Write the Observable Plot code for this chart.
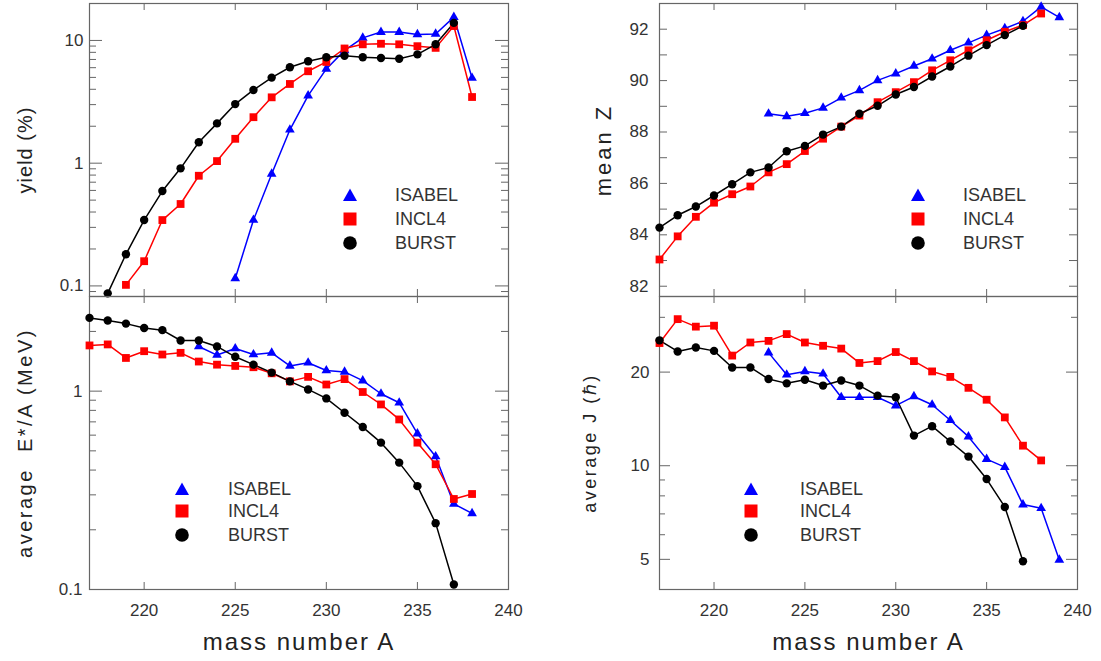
<!DOCTYPE html>
<html><head><meta charset="utf-8">
<script src="https://cdn.jsdelivr.net/npm/d3@7"></script>
<script src="https://cdn.jsdelivr.net/npm/@observablehq/plot@0.6"></script>
<style>
body{margin:0;background:#fff;}
#root{position:relative;width:1101px;height:661px;overflow:hidden;font-family:"Liberation Sans",Arial,sans-serif;}
.panel{position:absolute;}
.lg{position:absolute;font-family:"Liberation Sans",Arial,sans-serif;font-size:18px;color:#333;line-height:1;transform:translateY(-50%);white-space:nowrap;}
.lgm{position:absolute;transform:translate(-50%,-50%);}
</style></head><body><div id="root"></div>
<script>
// ---------- series names / styles ----------
const seriesNames = ["ISABEL", "INCL4", "BURST"];
const seriesColors = ["#0000ff", "#ff0000", "#000000"];
const seriesSymbols = ["triangle", "square", "circle"];

// ---------- mass numbers ----------
const A_218_237 = [218,219,220,221,222,223,224,225,226,227,228,229,230,231,232,233,234,235,236,237];
const A_219_238 = [219,220,221,222,223,224,225,226,227,228,229,230,231,232,233,234,235,236,237,238];
const A_225_238 = [225,226,227,228,229,230,231,232,233,234,235,236,237,238];
const A_217_237 = [217,218,219,220,221,222,223,224,225,226,227,228,229,230,231,232,233,234,235,236,237];
const A_217_238 = [217,218,219,220,221,222,223,224,225,226,227,228,229,230,231,232,233,234,235,236,237,238];
const A_223_239 = [223,224,225,226,227,228,229,230,231,232,233,234,235,236,237,238,239];
const A_223_238 = [223,224,225,226,227,228,229,230,231,232,233,234,235,236,237,238];

// ---------- yield (%) ----------
const yieldBURST  = [0.087,0.181,0.344,0.593,0.908,1.48,2.11,3.03,3.95,4.98,6.05,6.77,7.3,7.5,7.3,7.2,7.1,7.7,9.3,13.9];
const yieldINCL4  = [0.102,0.159,0.344,0.465,0.79,1.04,1.58,2.37,3.44,4.42,5.61,6.68,8.6,9.3,9.4,9.3,8.98,8.7,13.1,3.46];
const yieldISABEL = [0.115,0.344,0.817,1.87,3.55,5.86,8.3,10.5,11.7,11.7,11.2,11.3,15.5,4.94];

// ---------- mean Z ----------
const zBURST  = [84.28,84.76,85.1,85.53,85.97,86.43,86.62,87.25,87.46,87.9,88.21,88.71,89.02,89.46,89.75,90.16,90.55,90.97,91.38,91.77,92.13];
const zINCL4  = [83.04,83.94,84.7,85.25,85.58,85.88,86.43,86.75,87.26,87.74,88.21,88.64,89.16,89.55,89.94,90.4,90.79,91.18,91.57,91.9,92.16,92.61];
const zISABEL = [88.71,88.61,88.73,88.94,89.33,89.62,90.01,90.27,90.57,90.85,91.18,91.47,91.77,92.03,92.31,92.87,92.46];

// ---------- average E*/A (MeV) ----------
const eBURST  = [2.34,2.27,2.19,2.08,2.03,1.80,1.80,1.68,1.49,1.36,1.24,1.12,1.02,0.919,0.778,0.659,0.55,0.436,0.332,0.216,0.106];
const eINCL4  = [1.70,1.72,1.47,1.59,1.53,1.56,1.41,1.36,1.34,1.32,1.23,1.12,1.18,1.08,1.15,0.99,0.857,0.72,0.55,0.428,0.286,0.303];
const eISABEL = [1.68,1.52,1.64,1.53,1.56,1.34,1.39,1.27,1.25,1.13,0.97,0.874,0.61,0.468,0.27,0.242];

// ---------- average J (hbar) ----------
const jBURST  = [25.3,23.3,24.0,23.4,20.7,20.7,19.0,18.4,18.9,18.1,18.8,18.1,16.8,16.6,12.5,13.4,11.96,10.7,9.06,7.37,4.93];
const jINCL4  = [24.8,29.6,28.0,28.2,22.6,24.9,25.2,26.5,24.9,24.3,23.8,21.4,21.7,23.2,21.7,20.1,19.3,17.8,16.3,14.3,11.6,10.4];
const jISABEL = [23.1,19.6,20.1,19.75,16.6,16.6,16.6,15.6,16.7,15.7,14.0,12.4,10.5,9.9,7.5,7.3,4.98];

// ---------- axes ----------
const massDomain = [217, 240];
const massTicks = [220, 225, 230, 235, 240];
const yieldDomain = [0.082, 20];
const yieldMajor = [0.1, 1, 10];
const yieldMinor = [0.09,0.2,0.3,0.4,0.5,0.6,0.7,0.8,0.9,2,3,4,5,6,7,8,9,20];
const zDomain = [81.6, 93];
const zMajor = [82, 84, 86, 88, 90, 92];
const zMinor = [83, 85, 87, 89, 91, 93];
const eDomain = [0.1, 3];
const eMajor = [0.1, 1];
const eMinor = [0.2,0.3,0.4,0.5,0.6,0.7,0.8,0.9,2,3];
const jDomain = [4, 35];
const jMajor = [5, 10, 20];
const jMinor = [6, 7, 8, 9, 30];

const root = document.getElementById("root");
const FONT = "Liberation Sans, Arial, Helvetica, sans-serif";

function table(As, vals) {
  return As.map((A, i) => ({A, v: vals[i]}));
}

function makePanel(cfg) {
  const data = cfg.series.map(s => table(s[0], s[1]));
  const marks = [];
  const tickStroke = "#666";
  const fw = cfg.width - cfg.ml - cfg.mr;   // frame width
  const fh = cfg.height - cfg.mt - cfg.mb;  // frame height
  // inward ticks on all four sides
  for (const [len, ticks] of [[cfg.majorLen, cfg.yMajor], [cfg.minorLen, cfg.yMinor]]) {
    marks.push(Plot.tickY(ticks, {y: d => d, insetRight: fw - len, stroke: tickStroke}));
    marks.push(Plot.tickY(ticks, {y: d => d, insetLeft: fw - len, stroke: tickStroke}));
  }
  marks.push(Plot.tickX(massTicks, {x: d => d, insetBottom: fh - 7, stroke: tickStroke}));
  marks.push(Plot.tickX(massTicks, {x: d => d, insetTop: fh - 7, stroke: tickStroke}));
  // tick labels
  marks.push(Plot.axisY({anchor: "left", ticks: cfg.yMajor, tickSize: 0, tickPadding: cfg.yPad, tickFormat: d => String(d), label: null, fill: "#333", fontSize: 17}));
  if (cfg.xLabels) {
    marks.push(Plot.axisX({anchor: "bottom", ticks: massTicks, tickSize: 0, tickPadding: 14, tickFormat: d => String(d), label: null, fill: "#333", fontSize: 17}));
    marks.push(Plot.text(["mass number A"], {frameAnchor: "bottom", dy: 53, textAnchor: "middle", lineAnchor: "middle", fontSize: 24, fill: "#222"}));
  }
  marks.push(Plot.text([cfg.yTitle], {frameAnchor: "left", dx: cfg.yTitleDx, rotate: -90, textAnchor: "middle", lineAnchor: "middle", fontSize: cfg.yTitleSize, fill: "#222"}));
  marks.push(Plot.frame({stroke: "#666", strokeWidth: 1.2}));
  // series: ISABEL, INCL4, BURST
  data.forEach((d, i) => {
    marks.push(Plot.line(d, {x: "A", y: "v", stroke: seriesColors[i], strokeWidth: 1.5}));
  });
  const radii = [3.6, 4.4, 4.2];
  data.forEach((d, i) => {
    marks.push(Plot.dot(d, {x: "A", y: "v", fill: seriesColors[i], symbol: seriesSymbols[i], r: radii[i], stroke: "none"}));
  });
  const svg = Plot.plot({
    width: cfg.width, height: cfg.height,
    marginLeft: cfg.ml, marginRight: cfg.mr, marginTop: cfg.mt, marginBottom: cfg.mb,
    x: {domain: massDomain, axis: null},
    y: {type: cfg.yType, domain: cfg.yDomain, axis: null},
    style: {fontFamily: FONT, fontSize: "17px", background: "transparent", overflow: "visible", color: "#333"},
    marks
  });
  svg.classList.add("panel");
  svg.style.left = cfg.left + "px";
  svg.style.top = cfg.top + "px";
  d3.select(svg).selectAll("text").each(function () {
    if (this.textContent === "mass number A") this.style.letterSpacing = "2px";
    if (this.textContent === cfg.yTitle) this.style.letterSpacing = cfg.yTitleSpacing + "px";
  });
  root.appendChild(svg);
}

function legend(mx, tx, ys) {
  const shapes = [
    '<svg width="16" height="16"><path d="M8,1.5L15,14L1,14Z" fill="#0000ff"/></svg>',
    '<svg width="16" height="16"><rect x="1.5" y="1.5" width="13" height="13" fill="#ff0000"/></svg>',
    '<svg width="16" height="16"><circle cx="8" cy="8" r="6.8" fill="#000"/></svg>'
  ];
  seriesNames.forEach((name, i) => {
    const m = document.createElement("div");
    m.className = "lgm";
    m.style.left = mx + "px"; m.style.top = ys[i] + "px";
    m.innerHTML = shapes[i];
    m.style.height = "16px";
    root.appendChild(m);
    const t = document.createElement("div");
    t.className = "lg";
    t.style.left = tx + "px"; t.style.top = ys[i] + "px";
    t.textContent = name;
    root.appendChild(t);
  });
}

// top-left: yield
makePanel({
  left: 0, top: 0, width: 520, height: 300, ml: 89, mr: 12, mt: 3, mb: 4,
  series: [[A_225_238, yieldISABEL], [A_219_238, yieldINCL4], [A_218_237, yieldBURST]],
  yType: "log", yDomain: yieldDomain, yMajor: yieldMajor, yMinor: yieldMinor, majorLen: 13, minorLen: 7,
  yPad: 6, yTitle: "yield (%)", yTitleDx: -64, yTitleSize: 20, yTitleSpacing: 1, xLabels: false
});
// bottom-left: E*/A
makePanel({
  left: 0, top: 290, width: 520, height: 371, ml: 89, mr: 12, mt: 6, mb: 72,
  series: [[A_223_238, eISABEL], [A_217_238, eINCL4], [A_217_237, eBURST]],
  yType: "log", yDomain: eDomain, yMajor: eMajor, yMinor: eMinor, majorLen: 13, minorLen: 7,
  yPad: 7, yTitle: "average  E*/A (MeV)", yTitleDx: -64, yTitleSize: 20, yTitleSpacing: 2.5, xLabels: true
});
// top-right: mean Z
makePanel({
  left: 560, top: 0, width: 540, height: 300, ml: 99, mr: 23, mt: 3, mb: 4,
  series: [[A_223_239, zISABEL], [A_217_238, zINCL4], [A_217_237, zBURST]],
  yType: "linear", yDomain: zDomain, yMajor: zMajor, yMinor: zMinor, majorLen: 8, minorLen: 8,
  yPad: 11, yTitle: "mean Z", yTitleDx: -56, yTitleSize: 22, yTitleSpacing: 3, xLabels: false
});
// bottom-right: J
makePanel({
  left: 560, top: 290, width: 540, height: 371, ml: 99, mr: 23, mt: 6, mb: 72,
  series: [[A_223_239, jISABEL], [A_217_238, jINCL4], [A_217_237, jBURST]],
  yType: "log", yDomain: jDomain, yMajor: jMajor, yMinor: jMinor, majorLen: 11, minorLen: 6,
  yPad: 10, yTitle: "average J (\u210F)", yTitleDx: -69, yTitleSize: 18, yTitleSpacing: 2.5, xLabels: true
});

legend(350, 395, [195, 219, 243]);
legend(918, 963, [195, 219, 243]);
legend(182, 228, [489, 511, 535]);
legend(751, 800, [489, 511, 535]);
</script>
</body></html>
